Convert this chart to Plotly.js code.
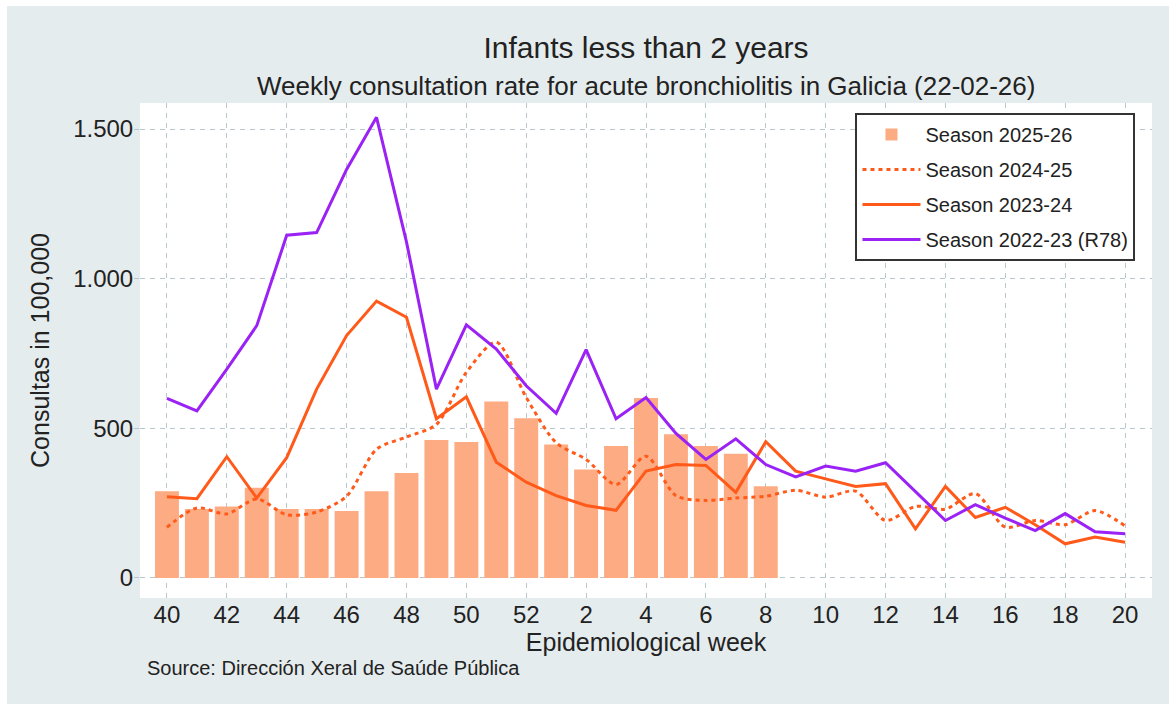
<!DOCTYPE html>
<html>
<head>
<meta charset="utf-8">
<script src="https://cdn.plot.ly/plotly-3.0.1.min.js"></script>
<style>
  body { margin: 0; background: #ffffff; }
  #chart { position: absolute; left: 7px; top: 6px; width: 1162px; height: 698px; }
</style>
</head>
<body>
<div id="chart"></div>
<script>
// epidemiological weeks, season runs from week 40 to week 20
const weeks = ['40','41','42','43','44','45','46','47','48','49','50','51','52',
  '1','2','3','4','5','6','7','8','9','10','11','12','13','14','15','16','17','18','19','20'];
const weekTicks = ['40','42','44','46','48','50','52','2','4','6','8','10','12','14','16','18','20'];

// rates per 100,000
const season2526 = [290, 230, 239, 301, 230, 230, 224, 290, 351, 461, 454, 590, 534,
  446, 362, 441, 601, 480, 441, 415, 306];
const season2425 = [169, 234, 214, 264, 211, 220, 273, 430, 471, 513, 687, 788, 603,
  452, 396, 312, 407, 275, 259, 267, 273, 293, 270, 290, 192, 239, 230, 282, 170, 192, 178, 225, 174];
const season2324 = [271, 265, 405, 267, 402, 631, 810, 925, 871, 532, 605, 387, 320,
  275, 242, 226, 357, 379, 376, 286, 455, 357, 331, 306, 315, 164, 306, 202, 236, 178, 114, 137, 119];
const season2223 = [600, 558, 698, 843, 1145, 1154, 1365, 1539, 1123, 631, 846, 765, 642,
  550, 763, 532, 603, 483, 396, 465, 379, 338, 374, 357, 385, 290, 192, 245, 200, 158, 215, 154, 148];

const textColor = '#222222';
const gridColor = '#b7c8cc';

const data = [
  {
    type: 'bar',
    name: 'Season 2025-26',
    x: weeks.slice(0, season2526.length),
    y: season2526,
    marker: { color: '#fdab82' },
    legendgroup: 'a'
  },
  {
    type: 'scatter',
    mode: 'lines',
    name: 'Season 2024-25',
    x: weeks,
    y: season2425,
    line: { color: '#ff5a1a', width: 3, dash: '4px,4px', shape: 'spline', smoothing: 0.8 },
    legendgroup: 'b'
  },
  {
    type: 'scatter',
    mode: 'lines',
    name: 'Season 2023-24',
    x: weeks,
    y: season2324,
    line: { color: '#ff5a1a', width: 3 },
    legendgroup: 'c'
  },
  {
    type: 'scatter',
    mode: 'lines',
    name: 'Season 2022-23 (R78)',
    x: weeks,
    y: season2223,
    line: { color: '#9b22f5', width: 3 },
    legendgroup: 'd'
  }
];

const layout = {
  width: 1162,
  height: 698,
  paper_bgcolor: '#e5ecee',
  plot_bgcolor: '#ffffff',
  margin: { l: 133, r: 17, t: 97, b: 106 },
  separators: ',.',
  font: { family: '"Liberation Sans", Arial, sans-serif', color: textColor },
  title: {
    text: 'Infants less than 2 years',
    font: { size: 30, color: textColor },
    x: 0.5, xref: 'paper',
    y: 0.94, yref: 'container', yanchor: 'middle'
  },
  bargap: 0.2,
  showlegend: true,
  legend: {
    x: 0.707, xanchor: 'left',
    y: 0.98, yanchor: 'top',
    bgcolor: '#ffffff',
    bordercolor: '#333333',
    borderwidth: 2,
    font: { size: 20, color: textColor },
    traceorder: 'grouped',
    tracegroupgap: 6,
    itemwidth: 58
  },
  xaxis: {
    type: 'category',
    categoryorder: 'array',
    categoryarray: weeks,
    range: [-0.9, 32.9],
    tickvals: weekTicks,
    ticktext: weekTicks,
    tickfont: { size: 24, color: textColor },
    showgrid: true,
    gridcolor: gridColor,
    griddash: '5px,5px',
    gridwidth: 1,
    zeroline: false,
    showline: false,
    ticks: '',
    title: { text: 'Epidemiological week', font: { size: 25, color: textColor }, standoff: 0 }
  },
  yaxis: {
    range: [-67, 1587],
    tickvals: [0, 500, 1000, 1500],
    tickformat: ',d',
    tickfont: { size: 24, color: textColor },
    showgrid: true,
    gridcolor: gridColor,
    griddash: '5px,5px',
    gridwidth: 1,
    zeroline: false,
    showline: false,
    ticks: 'outside',
    ticklen: 5,
    tickcolor: gridColor,
    ticklabelstandoff: -4,
    title: { text: 'Consultas in 100,000', font: { size: 25, color: textColor }, standoff: 16 }
  },
  annotations: [
    {
      text: 'Weekly consultation rate for acute bronchiolitis in Galicia (22-02-26)',
      xref: 'paper', yref: 'paper',
      x: 0.5, y: 1.034, xanchor: 'center', yanchor: 'middle',
      showarrow: false,
      font: { size: 26, color: textColor }
    },
    {
      text: 'Source: Dirección Xeral de Saúde Pública',
      xref: 'paper', yref: 'paper',
      x: 0.005, y: -0.141, xanchor: 'left', yanchor: 'middle',
      showarrow: false,
      font: { size: 20, color: textColor }
    }
  ]
};

Plotly.newPlot('chart', data, layout, { displayModeBar: false, staticPlot: true });
</script>
</body>
</html>
